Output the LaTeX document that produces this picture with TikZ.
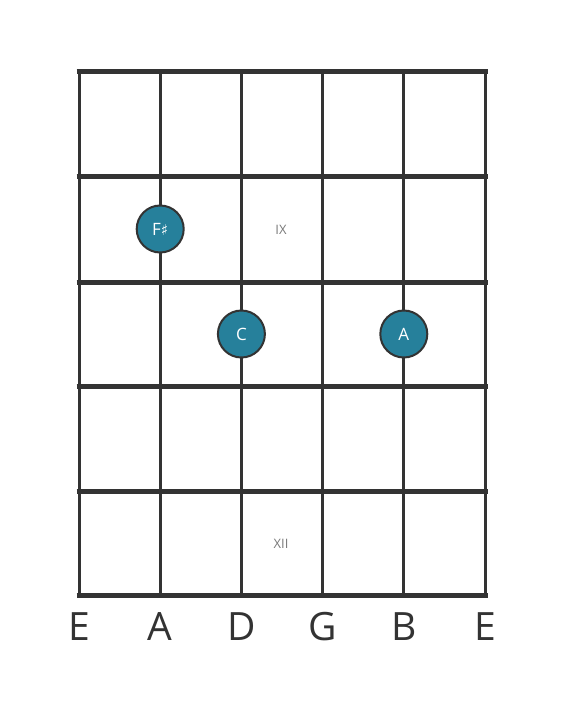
\documentclass[tikz,border=0pt]{standalone}
\usepackage{fontspec}
\setmainfont{Open Sans}
\newfontfamily\symfont{DejaVu Sans}
\definecolor{ink}{HTML}{333333}
\definecolor{teal}{RGB}{38,128,155}
\definecolor{romgray}{HTML}{7A7A7A}
\begin{document}
\begin{tikzpicture}[x=1pt,y=-1pt,
  fretline/.style={draw=ink,line width=5pt},
  stringline/.style={draw=ink,line width=3pt},
  notedot/.style={circle,fill=teal,draw=ink,line width=2pt,minimum size=47pt,inner sep=0pt,text=white,font=\fontsize{17}{17}\selectfont},
  strlabel/.style={text=ink,font=\fontsize{39}{39}\selectfont,inner sep=0pt},
  roman/.style={text=romgray,font=\fontsize{13}{13}\selectfont,inner sep=0pt}]
\useasboundingbox (0,0) rectangle (566,711);
\fill[white] (0,0) rectangle (566,711);
% strings
\foreach \i/\x in {0/79,1/160.2,2/241.4,3/322.6,4/403.8,5/485}{
  \coordinate (st\i) at (\x,72);
  \coordinate (sb\i) at (\x,595);
  \draw[stringline] (st\i) -- (sb\i);
}
% frets
\foreach \j/\y in {0/72,1/177,2/282,3/386,4/491,5/595}{
  \coordinate (fl\j) at (76.5,\y);
  \coordinate (fr\j) at (487.5,\y);
  \draw[fretline,line cap=butt] (fl\j) -- (fr\j);
}
% string names
\foreach \i/\x/\n in {0/79/E,1/160.2/A,2/241.4/D,3/322.6/G,4/403.8/B,5/485/E}{
  \node[strlabel] (lab\i) at (\x,627) {\n};
}
% fret markers
\node[roman] (ix) at (281,230) {IX};
\node[roman] (xii) at (281,544) {XII};
% notes
\node[notedot] (fs) at (160.2,229) {F{\symfont\fontsize{15}{15}\selectfont ♯}};
\node[notedot] (c) at (241.4,334) {C};
\node[notedot] (a) at (403.8,334) {A};
\end{tikzpicture}
\end{document}
